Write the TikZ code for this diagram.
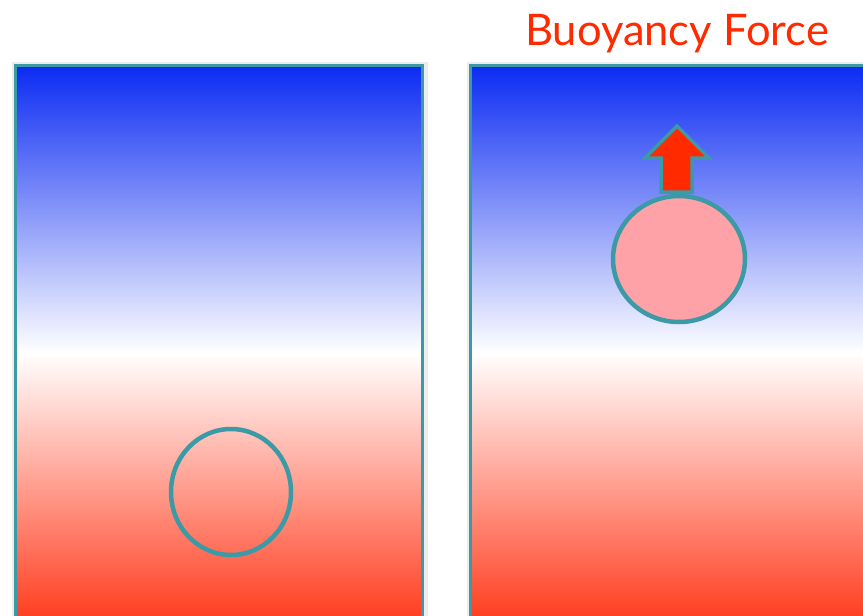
\documentclass[tikz,border=0pt]{standalone}
\usepackage{fontspec}
\setmainfont{Lato}
\usetikzlibrary{shapes.geometric}
\definecolor{tealb}{HTML}{3C9AA6}
\definecolor{topblue}{HTML}{0B2BF2}
\definecolor{botred}{HTML}{FF2E0E}
\definecolor{titlered}{HTML}{FF2A00}
\definecolor{pinkfill}{HTML}{FFA2A8}
\definecolor{arrowred}{HTML}{FF2A00}
\tikzset{
  tank/.style={draw=tealb, line width=3pt, top color=topblue, bottom color=botred, middle color=white},
  parcel/.style={ellipse, draw=tealb, line width=4.5pt, inner sep=0pt},
}
\begin{document}
\begin{tikzpicture}[x=1pt,y=-1pt]
\useasboundingbox (0,0) rectangle (863,616);
\clip (0,0) rectangle (863,616);
\fill[white] (0,0) rectangle (863,616);
\fill[black!7] (12,62) rectangle (428,620);
\fill[black!7] (467,62) rectangle (870,620);
\path[tank] (15.5,65.5) rectangle (422.5,640);
\path[tank] (470.5,65.5) rectangle (880,640);
\node[parcel, minimum width=120pt, minimum height=126pt] (cold) at (231,492) {};
\node[parcel, fill=pinkfill, minimum width=132pt, minimum height=126pt] (warm) at (679,259) {};
\coordinate (tip) at (677,126);
\draw[tealb, line width=3.5pt, fill=arrowred, line join=miter]
  (tip) -- (709,158) -- (692,158) -- (692,192) -- (661,192) -- (661,158) -- (645,158) -- cycle;
\node[text=titlered, font=\fontsize{43.5}{48}\selectfont, anchor=base] (title) at (677,45) {Buoyancy Force};
\end{tikzpicture}
\end{document}
